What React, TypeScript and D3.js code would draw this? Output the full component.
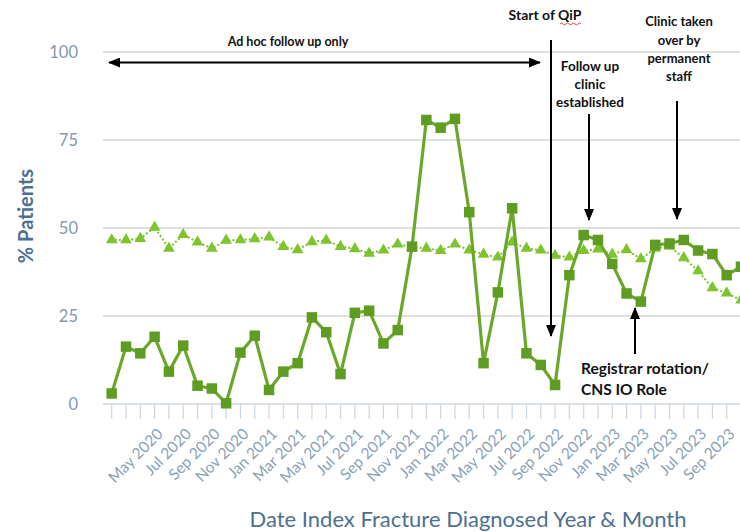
import React from "react";
import * as d3 from "d3";

const months = [
  "Jan 2020", "Feb 2020", "Mar 2020", "Apr 2020", "May 2020", "Jun 2020", "Jul 2020", "Aug 2020",
  "Sep 2020", "Oct 2020", "Nov 2020", "Dec 2020", "Jan 2021", "Feb 2021", "Mar 2021", "Apr 2021",
  "May 2021", "Jun 2021", "Jul 2021", "Aug 2021", "Sep 2021", "Oct 2021", "Nov 2021", "Dec 2021",
  "Jan 2022", "Feb 2022", "Mar 2022", "Apr 2022", "May 2022", "Jun 2022", "Jul 2022", "Aug 2022",
  "Sep 2022", "Oct 2022", "Nov 2022", "Dec 2022", "Jan 2023", "Feb 2023", "Mar 2023", "Apr 2023",
  "May 2023", "Jun 2023", "Jul 2023", "Aug 2023", "Sep 2023",
];

// Square markers, solid line
const followUpSeries = [
  3.0, 16.3, 14.4, 19.1, 9.2, 16.6, 5.2, 4.4, 0.2, 14.6, 19.4, 4.0, 9.2, 11.6, 24.6, 20.4,
  8.5, 25.9, 26.5, 17.2, 21.0, 44.7, 80.7, 78.5, 81.0, 54.5, 11.6, 31.7, 55.6, 14.4, 11.1, 5.4,
  36.6, 48.0, 46.6, 39.8, 31.4, 29.1, 45.2, 45.6, 46.6, 43.6, 42.6, 36.6, 39.0,
];

// Triangle markers, dotted line
const comparisonSeries = [
  46.6, 46.6, 47.0, 50.2, 44.2, 48.1, 46.0, 44.2, 46.5, 46.6, 46.9, 47.4, 44.7, 43.8, 46.1, 46.5,
  44.7, 44.1, 42.8, 43.7, 45.4, 44.6, 44.2, 43.6, 45.4, 43.7, 42.5, 41.7, 46.0, 44.2, 43.7, 42.2,
  41.7, 43.6, 44.0, 42.5, 43.8, 41.2, 44.2, 44.8, 41.5, 37.8, 33.0, 31.5, 29.5,
];

const yTicks = [0, 25, 50, 75, 100];

const xTickLabels = [
  "May 2020", "Jul 2020", "Sep 2020", "Nov 2020", "Jan 2021", "Mar 2021", "May 2021", "Jul 2021",
  "Sep 2021", "Nov 2021", "Jan 2022", "Mar 2022", "May 2022", "Jul 2022", "Sep 2022", "Nov 2022",
  "Jan 2023", "Mar 2023", "May 2023", "Jul 2023", "Sep 2023",
];

const W = 740;
const H = 532;
const FONT = "Lato, 'Open Sans', sans-serif";

export default function App() {
  const x = d3.scalePoint<string>().domain(months).range([111.7, 741]);
  const y = d3.scaleLinear().domain([0, 100]).range([404, 52]);

  const lineGen = d3
    .line<number>()
    .x((_, i) => x(months[i]) as number)
    .y((d) => y(d));

  const sq = 10.5;
  const triPath = d3.symbol().type(d3.symbolTriangle).size(60)() as string;

  const darkGreen = "#5f9d22";
  const lineGreen = "#6aa82c";
  const lightGreen = "#7dc42f";
  const axisText = "#8499ad";
  const titleColor = "#4d7091";

  const gridX0 = 103;
  const gridX1 = W;

  return (
    <svg
      width={W}
      height={H}
      style={{ position: "absolute", left: 0, top: 0, background: "#fff" }}
      fontFamily={FONT}
    >
      <defs>
        <marker id="ah" viewBox="0 0 12 10" refX="11" refY="5" markerWidth="12" markerHeight="10" markerUnits="userSpaceOnUse" orient="auto-start-reverse">
          <path d="M0,0 L12,5 L0,10 Z" fill="#000" />
        </marker>
        <clipPath id="plotClip">
          <rect x={106} y={0} width={W - 106} height={H} />
        </clipPath>
      </defs>

      {/* gridlines */}
      {yTicks.filter((t) => t > 0).map((t) => (
        <line key={t} x1={gridX0} x2={gridX1} y1={y(t)} y2={y(t)} stroke="#d6d6d6" strokeWidth={1.5} />
      ))}
      {/* x axis line */}
      <line x1={gridX0} x2={gridX1} y1={y(0)} y2={y(0)} stroke="#cfd6e0" strokeWidth={1.5} />
      {/* x ticks */}
      {months.map((m) => (
        <line key={m} x1={x(m)} x2={x(m)} y1={y(0)} y2={y(0) + 15} stroke="#cdd5df" strokeWidth={1.2} />
      ))}

      {/* y tick labels */}
      {yTicks.map((t) => (
        <text key={t} x={78} y={y(t)} dy="0.35em" textAnchor="end" fontSize={16.5} fill={axisText}>
          {t}
        </text>
      ))}

      {/* x tick labels */}
      {xTickLabels.map((lab) => {
        const px = (x(lab) as number) - 9;
        return (
          <text
            key={lab}
            transform={`translate(${px},${431}) rotate(-45)`}
            textAnchor="end"
            dy="0.35em"
            fontSize={15.5}
            fill="#8aa1b6"
          >
            {lab}
          </text>
        );
      })}

      {/* axis titles */}
      <text transform={`translate(33,216) rotate(-90)`} textAnchor="middle" fontSize={20} fontWeight="bold" fill={titleColor}>
        % Patients
      </text>
      <text x={468} y={527} textAnchor="middle" fontSize={22} fill={titleColor}>
        Date Index Fracture Diagnosed Year &amp; Month
      </text>

      <g clipPath="url(#plotClip)">
        {/* comparison series: dotted line with triangles */}
        <path
          d={lineGen(comparisonSeries) || ""}
          fill="none"
          stroke={lightGreen}
          strokeWidth={2.2}
          strokeDasharray="0.1 4"
          strokeLinecap="round"
        />
        {comparisonSeries.map((v, i) => (
          <path
            key={i}
            d={triPath}
            transform={`translate(${x(months[i])},${y(v)})`}
            fill={lightGreen}
          />
        ))}

        {/* follow-up series: solid line with squares */}
        <path d={lineGen(followUpSeries) || ""} fill="none" stroke={lineGreen} strokeWidth={3.2} strokeLinejoin="round" />
        {followUpSeries.map((v, i) => (
          <rect
            key={i}
            x={(x(months[i]) as number) - sq / 2}
            y={y(v) - sq / 2}
            width={sq}
            height={sq}
            fill={darkGreen}
          />
        ))}
      </g>

      {/* annotations */}
      <g fontWeight="bold" fontSize={13} fill="#111">
        <text x={288} y={46} textAnchor="middle" fontSize={12.5}>Ad hoc follow up only</text>
        <line x1={109} x2={540} y1={62.5} y2={62.5} stroke="#000" strokeWidth={2} markerStart="url(#ah)" markerEnd="url(#ah)" />

        <text x={545} y={20} textAnchor="middle" fontSize={14}>Start of QiP</text>
        <path d="M560,24 q1.5,-2 3,0 t3,0 t3,0 t3,0 t3,0 t3,0 t3,0" fill="none" stroke="#e0312b" strokeWidth={0.9} />
        <line x1={551} x2={551} y1={40} y2={336} stroke="#000" strokeWidth={2} markerEnd="url(#ah)" />

        <text x={590} textAnchor="middle" fontSize={13.5}>
          <tspan x={590} y={71}>Follow up</tspan>
          <tspan x={590} y={89}>clinic</tspan>
          <tspan x={590} y={107}>established</tspan>
        </text>
        <line x1={589} x2={589} y1={114} y2={220} stroke="#000" strokeWidth={2} markerEnd="url(#ah)" />

        <text x={679} textAnchor="middle">
          <tspan x={679} y={26}>Clinic taken</tspan>
          <tspan x={679} y={45}>over by</tspan>
          <tspan x={679} y={63}>permanent</tspan>
          <tspan x={679} y={81}>staff</tspan>
        </text>
        <line x1={677} x2={677} y1={101} y2={219} stroke="#000" strokeWidth={2} markerEnd="url(#ah)" />

        <text x={581} fontSize={15.5}>
          <tspan x={581} y={374}>Registrar rotation/</tspan>
          <tspan x={581} y={395}>CNS IO Role</tspan>
        </text>
        <line x1={635} x2={635} y1={354} y2={308} stroke="#000" strokeWidth={2} markerEnd="url(#ah)" />
      </g>
    </svg>
  );
}
